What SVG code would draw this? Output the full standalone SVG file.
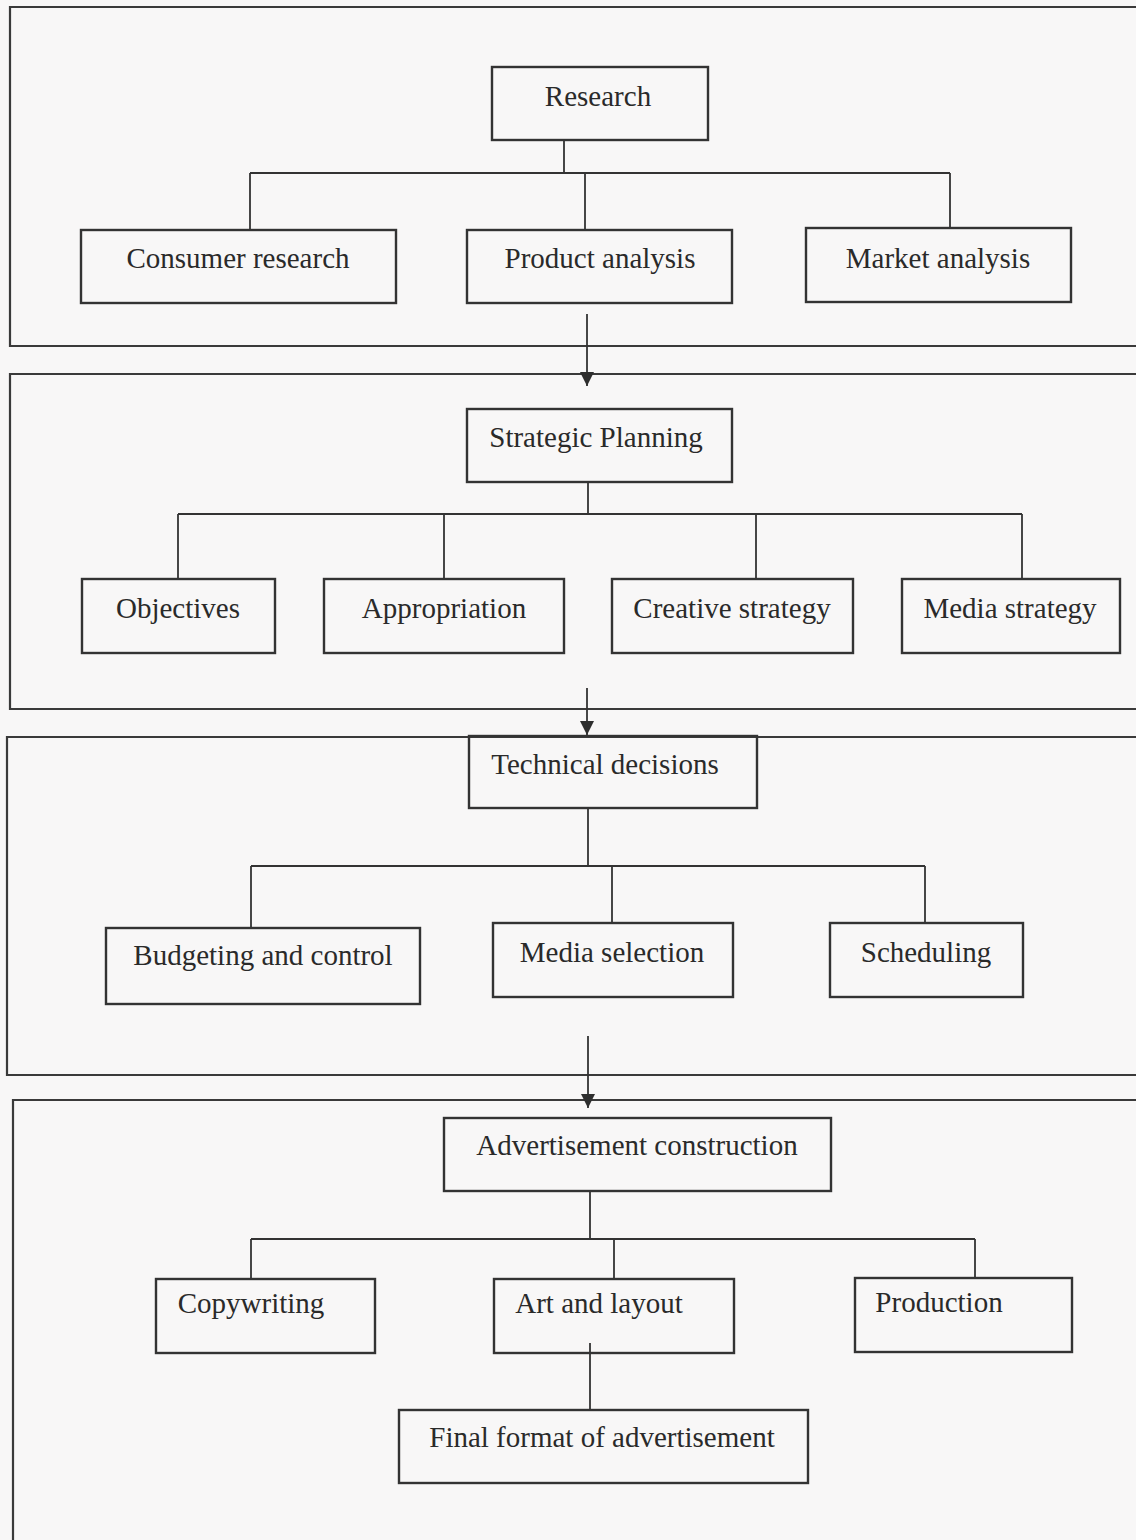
<svg xmlns="http://www.w3.org/2000/svg" width="1136" height="1540" viewBox="0 0 1136 1540">
  <style>
    .frame { fill: none; stroke: #3a3a3a; stroke-width: 2.2; }
    .box rect { fill: none; stroke: #333; stroke-width: 2.4; }
    .box text { font-family: "Liberation Serif", "Times New Roman", serif; font-size: 29px; fill: #2a2a2a; text-anchor: middle; }
    .wire { fill: none; stroke: #333; stroke-width: 1.8; }
  </style>
  <defs>
    <!-- arrowhead drawn along +x so orient="auto" points it down the line -->
    <marker id="arrow" markerUnits="userSpaceOnUse" markerWidth="15" markerHeight="14" refX="14" refY="7" orient="auto" viewBox="0 0 15 14">
      <path d="M0,0 L14,7 L0,14 Z" fill="#2e2e2e"/>
    </marker>
  </defs>

  <!-- paper -->
  <rect x="0" y="0" width="1136" height="1540" fill="#f8f7f7"/>

  <!-- stage frames, open to the right edge -->
  <g id="frames">
    <path class="frame" d="M1140,7 H10 V346 H1140"/>
    <path class="frame" d="M1140,374 H10 V709 H1140"/>
    <path class="frame" d="M1140,737 H7 V1075 H1140"/>
    <path class="frame" d="M1140,1100 H13 V1545"/>
  </g>

  <!-- connectors -->
  <g id="connectors">
    <!-- research tree -->
    <path class="wire" d="M564,140 V173 M250,173 H950 M250,173 V230 M585,173 V230 M950,173 V228"/>
    <path class="wire" d="M587,314 V386" marker-end="url(#arrow)"/>
    <!-- strategic planning tree -->
    <path class="wire" d="M588,482 V514 M178,514 H1022 M178,514 V579 M444,514 V579 M756,514 V579 M1022,514 V579"/>
    <path class="wire" d="M587,688 V735" marker-end="url(#arrow)"/>
    <!-- technical decisions tree -->
    <path class="wire" d="M588,808 V866 M251,866 H925 M251,866 V928 M612,866 V923 M925,866 V923"/>
    <path class="wire" d="M588,1036 V1108" marker-end="url(#arrow)"/>
    <!-- advertisement construction tree -->
    <path class="wire" d="M590,1191 V1239 M251,1239 H975 M251,1239 V1279 M614,1239 V1279 M975,1239 V1278"/>
    <path class="wire" d="M590,1343 V1410"/>
  </g>

  <g id="research" class="box"><rect x="492" y="67" width="216" height="73"/><text x="598" y="106">Research</text></g>
  <g id="consumer-research" class="box"><rect x="81" y="230" width="315" height="73"/><text x="238" y="268">Consumer research</text></g>
  <g id="product-analysis" class="box"><rect x="467" y="230" width="265" height="73"/><text x="600" y="268">Product analysis</text></g>
  <g id="market-analysis" class="box"><rect x="806" y="228" width="265" height="74"/><text x="938" y="268">Market analysis</text></g>

  <g id="strategic-planning" class="box"><rect x="467" y="409" width="265" height="73"/><text x="596" y="447">Strategic Planning</text></g>
  <g id="objectives" class="box"><rect x="82" y="579" width="193" height="74"/><text x="178" y="618">Objectives</text></g>
  <g id="appropriation" class="box"><rect x="324" y="579" width="240" height="74"/><text x="444" y="618">Appropriation</text></g>
  <g id="creative-strategy" class="box"><rect x="612" y="579" width="241" height="74"/><text x="732" y="618">Creative strategy</text></g>
  <g id="media-strategy" class="box"><rect x="902" y="579" width="218" height="74"/><text x="1010" y="618">Media strategy</text></g>

  <g id="technical-decisions" class="box"><rect x="469" y="736" width="288" height="72"/><text x="605" y="774">Technical decisions</text></g>
  <g id="budgeting-and-control" class="box"><rect x="106" y="928" width="314" height="76"/><text x="263" y="965">Budgeting and control</text></g>
  <g id="media-selection" class="box"><rect x="493" y="923" width="240" height="74"/><text x="612" y="962">Media selection</text></g>
  <g id="scheduling" class="box"><rect x="830" y="923" width="193" height="74"/><text x="926" y="962">Scheduling</text></g>

  <g id="advertisement-construction" class="box"><rect x="444" y="1118" width="387" height="73"/><text x="637" y="1155">Advertisement construction</text></g>
  <g id="copywriting" class="box"><rect x="156" y="1279" width="219" height="74"/><text x="251" y="1313">Copywriting</text></g>
  <g id="art-and-layout" class="box"><rect x="494" y="1279" width="240" height="74"/><text x="599" y="1313">Art and layout</text></g>
  <g id="production" class="box"><rect x="855" y="1278" width="217" height="74"/><text x="939" y="1312">Production</text></g>
  <g id="final-format" class="box"><rect x="399" y="1410" width="409" height="73"/><text x="602" y="1447">Final format of advertisement</text></g>
</svg>
